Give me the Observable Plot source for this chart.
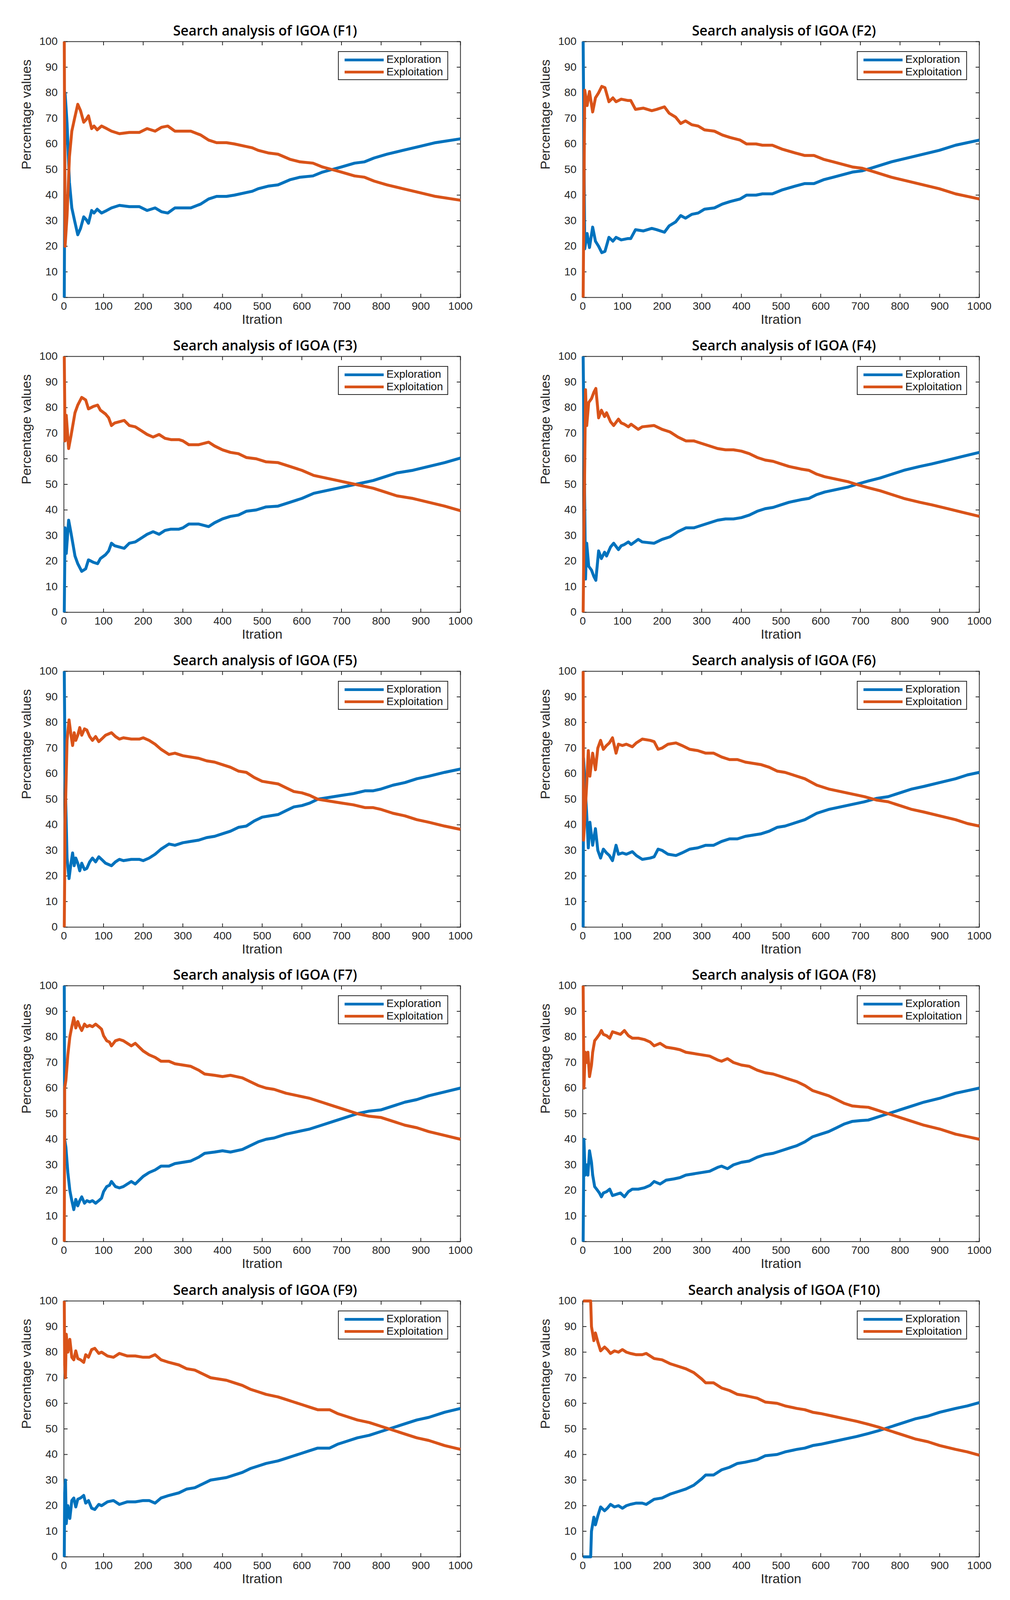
<!DOCTYPE html>
<html><head><meta charset="utf-8">
<script src="https://cdn.jsdelivr.net/npm/d3@7"></script>
<script src="https://cdn.jsdelivr.net/npm/@observablehq/plot@0.6"></script>
<style>
html,body{margin:0;padding:0;background:#fff;}
#root{position:relative;width:2585px;height:5035px;background:#fff;overflow:hidden;font-family:"Liberation Sans",Arial,sans-serif;color:#262626;}
.title{position:absolute;text-align:center;font-family:"Open Sans",sans-serif;font-weight:600;font-size:36px;line-height:36px;color:#000;white-space:nowrap;}
.title span{display:inline-block;transform-origin:center center;}
.legend{position:absolute;box-sizing:border-box;width:282px;border:2px solid #262626;background:#fff;}
.sw{position:absolute;left:15px;width:100px;height:7px;}
.lt{position:absolute;left:122px;font-size:28px;line-height:28px;color:#111;font-family:"Liberation Sans",Arial,sans-serif;white-space:nowrap;}
svg{position:absolute;overflow:visible;}
</style></head><body><div id="root"></div>
<script>
// ---------- data ----------
const titles = ["Search analysis of IGOA (F1)","Search analysis of IGOA (F2)","Search analysis of IGOA (F3)","Search analysis of IGOA (F4)","Search analysis of IGOA (F5)","Search analysis of IGOA (F6)","Search analysis of IGOA (F7)","Search analysis of IGOA (F8)","Search analysis of IGOA (F9)","Search analysis of IGOA (F10)"];
const seriesNames = ["Exploration","Exploitation"];
const xLabel = "Itration";
const yLabel = "Percentage values";
const xTicks = [0,100,200,300,400,500,600,700,800,900,1000];
const yTicks = [0,10,20,30,40,50,60,70,80,90,100];

const f1Iter = [1,3,8,14,20,27,35,42,50,56,62,70,76,84,95,108,120,140,165,190,210,230,246,262,280,300,320,345,365,385,410,430,460,475,490,515,540,570,595,628,652,676,700,733,758,782,815,855,896,937,1000];
const f1Exploration = [0,80,68,45,35,30,24.5,27,31.5,30.5,29,34,33,34.5,33,34,35,36,35.5,35.5,34,35,33.5,33,35,35,35,36.5,38.5,39.5,39.5,40,41,41.5,42.5,43.5,44,46,47,47.5,49,50,51,52.5,53,54.5,56,57.5,59,60.5,62];
const f1Exploitation = [100,20,32,55,65,70,75.5,73,68.5,69.5,71,66,67,65.5,67,66,65,64,64.5,64.5,66,65,66.5,67,65,65,65,63.5,61.5,60.5,60.5,60,59,58.5,57.5,56.5,56,54,53,52.5,51,50,49,47.5,47,45.5,44,42.5,41,39.5,38];

const f2Iter = [1,5,11,17,25,32,40,48,56,66,76,84,97,113,121,133,153,174,186,206,218,234,247,259,275,291,307,332,352,372,397,413,437,453,478,502,535,559,583,607,632,656,680,705,737,778,818,859,899,940,1000];
const f2Exploration = [100,19,25,19.5,27.5,22,20,17.5,18,23.5,22,23.5,22.5,23,23,26.5,26,27,26.5,25.5,28,29.5,32,31,32.5,33,34.5,35,36.5,37.5,38.5,40,40,40.5,40.5,42,43.5,44.5,44.5,46,47,48,49,49.5,51,53,54.5,56,57.5,59.5,61.5];
const f2Exploitation = [0,81,75,80.5,72.5,78,80,82.5,82,76.5,78,76.5,77.5,77,77,73.5,74,73,73.5,74.5,72,70.5,68,69,67.5,67,65.5,65,63.5,62.5,61.5,60,60,59.5,59.5,58,56.5,55.5,55.5,54,53,52,51,50.5,49,47,45.5,44,42.5,40.5,38.5];

const f3Iter = [1,3,6,12,18,28,35,45,55,62,75,85,92,105,113,120,128,140,152,165,180,195,210,225,240,255,270,290,300,315,340,365,380,400,420,440,460,485,510,540,570,600,630,660,690,720,750,780,810,840,880,920,960,1000];
const f3Exploration = [0,33,23,36,31,22,19,16,17,20.5,19.5,19,21,22.5,24,27,26,25.5,25,27,27.5,29,30.5,31.5,30.5,32,32.5,32.5,33,34.5,34.5,33.5,35,36.5,37.5,38,39.5,40,41.2,41.5,43,44.5,46.5,47.5,48.5,49.5,50.5,51.5,53,54.5,55.5,57,58.5,60.3];
const f3Exploitation = [100,67,77,64,69,78,81,84,83,79.5,80.5,81,79,77.5,76,73,74,74.5,75,73,72.5,71,69.5,68.5,69.5,68,67.5,67.5,67,65.5,65.5,66.5,65,63.5,62.5,62,60.5,60,58.8,58.5,57,55.5,53.5,52.5,51.5,50.5,49.5,48.5,47,45.5,44.5,43,41.5,39.7];

const f4Iter = [1,7,10,15,22,28,33,40,47,55,60,70,78,90,97,105,115,122,140,150,180,200,220,240,260,280,300,320,340,360,380,400,420,440,460,480,500,520,550,570,590,610,640,670,690,720,750,780,810,850,880,920,960,1000];
const f4Exploration = [100,13,27,18,16.5,14,12.5,24,21,23.5,22,25.5,27,24.5,26,26.5,27.5,26.5,28.5,27.5,27,28.5,29.5,31.5,33,33,34,35,36,36.5,36.5,37,38,39.5,40.5,41,42,43,44,44.5,46,47,48,49,50,51.3,52.5,54,55.5,57,58,59.5,61,62.5];
const f4Exploitation = [0,87,73,82,83.5,86,87.5,76,79,76.5,78,74.5,73,75.5,74,73.5,72.5,73.5,71.5,72.5,73,71.5,70.5,68.5,67,67,66,65,64,63.5,63.5,63,62,60.5,59.5,59,58,57,56,55.5,54,53,52,51,50,48.7,47.5,46,44.5,43,42,40.5,39,37.5];

const f5Iter = [1,3,8,13,18,22,26,30,35,40,45,52,58,65,72,80,88,95,105,120,130,140,150,170,190,200,215,230,245,265,280,300,320,340,360,380,400,420,440,460,480,500,520,540,560,580,600,620,640,660,680,700,730,760,780,800,830,860,890,920,960,1000];
const f5Exploration = [100,60,27,19,25,29,24,27,25,22,25,22.5,23,25.5,27,25.5,27.5,26.5,25,24,25.5,26.5,26,26.5,26.5,26,27,28.5,30.5,32.5,32,33,33.5,34,35,35.5,36.5,37.5,39,39.5,41.5,43,43.5,44,45.5,47,47.5,48.5,50,50.5,51,51.5,52.2,53.3,53.3,54,55.5,56.5,58,59,60.5,61.8];
const f5Exploitation = [0,40,73,81,75,71,76,73,75,78,75,77.5,77,74.5,73,74.5,72.5,73.5,75,76,74.5,73.5,74,73.5,73.5,74,73,71.5,69.5,67.5,68,67,66.5,66,65,64.5,63.5,62.5,61,60.5,58.5,57,56.5,56,54.5,53,52.5,51.5,50,49.5,49,48.5,47.8,46.7,46.7,46,44.5,43.5,42,41,39.5,38.2];

const f6Iter = [1,2,10,14,18,25,32,38,45,52,60,67,75,84,90,100,110,125,135,150,170,180,190,200,215,235,250,270,290,310,330,350,370,390,410,430,450,470,490,510,530,560,590,620,650,680,710,740,770,800,830,860,900,940,970,1000];
const f6Exploration = [0,66,44,31,41,32,38.5,30,27,30.5,29,28,26,32,28.5,29,28.5,29.5,28,26.5,27,27.5,30.5,30,28.5,28,29,30.5,31,32,32,33.5,34.5,34.5,35.5,36,36.5,37.5,39,39.5,40.5,42,44.5,46,47,48,49,50.3,51,52.5,54,55,56.5,58,59.5,60.5];
const f6Exploitation = [100,34,56,69,59,68,61.5,70,73,69.5,71,72,74,68,71.5,71,71.5,70.5,72,73.5,73,72.5,69.5,70,71.5,72,71,69.5,69,68,68,66.5,65.5,65.5,64.5,64,63.5,62.5,61,60.5,59.5,58,55.5,54,53,52,51,49.7,49,47.5,46,45,43.5,42,40.5,39.5];

const f7Iter = [1,2,5,10,15,20,25,30,35,40,45,52,58,65,72,80,88,95,100,108,115,120,130,140,150,160,170,180,190,200,215,230,245,265,280,300,320,340,355,380,400,420,450,470,490,510,530,560,590,620,650,680,710,740,770,800,830,860,890,920,960,1000];
const f7Exploration = [100,40,37,27,20,16,12.5,16.5,14,16,17.5,15,16,15.5,16,15,16,17,19.5,21.5,22,23.5,21.5,21,21.5,22.5,23.5,22.5,24,25.5,27,28,29.5,29.5,30.5,31,31.5,33,34.5,35,35.5,35,36,37.5,39,40,40.5,42,43,44,45.5,47,48.5,50,51,51.5,53,54.5,55.5,57,58.5,60];
const f7Exploitation = [0,60,63,73,80,84,87.5,83.5,86,84,82.5,85,84,84.5,84,85,84,83,80.5,78.5,78,76.5,78.5,79,78.5,77.5,76.5,77.5,76,74.5,73,72,70.5,70.5,69.5,69,68.5,67,65.5,65,64.5,65,64,62.5,61,60,59.5,58,57,56,54.5,53,51.5,50,49,48.5,47,45.5,44.5,43,41.5,40];

const f8Iter = [1,3,6,10,13,17,22,25,30,35,42,47,52,60,68,75,85,95,105,115,125,140,155,170,180,195,210,230,245,260,280,300,320,340,350,365,380,400,420,440,460,480,500,520,540,560,580,600,620,640,660,680,700,720,740,760,780,800,830,860,900,940,970,1000];
const f8Exploration = [0,40,26,30,26,35.5,31,26,21.5,20.5,19,17.5,19,19.5,20.5,18,18.5,19,17.5,19.5,20.5,20.5,21,22,23.5,22.5,24,24.5,25,26,26.5,27,27.5,29,29.5,28.5,30,31,31.5,33,34,34.5,35.5,36.5,37.5,39,41,42,43,44.5,46,47,47.3,47.5,48.5,49.5,50.5,51.5,53,54.5,56,58,59,60];
const f8Exploitation = [100,60,74,70,74,64.5,69,74,78.5,79.5,81,82.5,81,80.5,79.5,82,81.5,81,82.5,80.5,79.5,79.5,79,78,76.5,77.5,76,75.5,75,74,73.5,73,72.5,71,70.5,71.5,70,69,68.5,67,66,65.5,64.5,63.5,62.5,61,59,58,57,55.5,54,53,52.7,52.5,51.5,50.5,49.5,48.5,47,45.5,44,42,41,40];

const f9Iter = [1,2,4,6,10,15,20,25,30,35,42,50,55,62,70,78,88,95,110,125,140,160,180,200,215,230,245,265,290,310,330,350,370,390,410,430,450,470,490,510,540,560,580,600,620,640,670,690,710,740,770,800,830,860,890,920,960,1000];
const f9Exploration = [0,25,30,13,20,15,22,23,19.5,22.5,23,24,21,22,19,18.5,20.5,20,21.5,22,20.5,21.5,21.5,22,22,21,23,24,25,26.5,27,28.5,30,30.5,31,32,33,34.5,35.5,36.5,37.5,38.5,39.5,40.5,41.5,42.5,42.5,44,45,46.5,47.5,49,50.5,52,53.5,54.5,56.5,58];
const f9Exploitation = [100,75,70,87,80,85,78,77,80.5,77.5,77,76,79,78,81,81.5,79.5,80,78.5,78,79.5,78.5,78.5,78,78,79,77,76,75,73.5,73,71.5,70,69.5,69,68,67,65.5,64.5,63.5,62.5,61.5,60.5,59.5,58.5,57.5,57.5,56,55,53.5,52.5,51,49.5,48,46.5,45.5,43.5,42];

const f10Iter = [1,20,22,28,32,38,45,55,62,70,80,90,100,110,120,135,150,160,180,200,220,240,260,280,300,310,330,350,370,390,410,440,460,490,510,540,560,580,600,630,660,690,720,750,780,810,840,870,900,940,970,1000];
const f10Exploration = [0,0,10,15.5,12.5,16,19.5,18,19,20.5,19.5,20,19,20,20.5,21,21,20.5,22.5,23,24.5,25.5,26.5,28,30.5,32,32,34,35,36.5,37,38,39.5,40,41,42,42.5,43.5,44,45,46,47,48.2,49.5,51,52.5,54,55,56.5,58,59,60.3];
const f10Exploitation = [100,100,90,84.5,87.5,84,80.5,82,81,79.5,80.5,80,81,80,79.5,79,79,79.5,77.5,77,75.5,74.5,73.5,72,69.5,68,68,66,65,63.5,63,62,60.5,60,59,58,57.5,56.5,56,55,54,53,51.8,50.5,49,47.5,46,45,43.5,42,41,39.7];

// ---------- layout & style ----------
const iters = [f1Iter,f2Iter,f3Iter,f4Iter,f5Iter,f6Iter,f7Iter,f8Iter,f9Iter,f10Iter];
const explorations = [f1Exploration,f2Exploration,f3Exploration,f4Exploration,f5Exploration,f6Exploration,f7Exploration,f8Exploration,f9Exploration,f10Exploration];
const exploitations = [f1Exploitation,f2Exploitation,f3Exploitation,f4Exploitation,f5Exploitation,f6Exploitation,f7Exploitation,f8Exploitation,f9Exploitation,f10Exploitation];

const colors = ["#0072BD", "#D95319"];
const axisColor = "#262626";
// the page is photographed through the visible window; fit the 5035px-tall layout into it
const REF_H = 5035;
const fy = Math.min(1, (window.innerHeight || REF_H) / REF_H);
const Y = v => v * fy;

const colLeft = [163, 1491];
const rowTop = [130, 1121, 2112, 3102, 4094];
const PW = 1015, PH = Math.round(Y(805));
const ML = 150, MR = 20, MT = 10, MB = 100;

const root = document.getElementById("root");
root.style.height = Math.floor(Y(REF_H)) + "px";
const titleSpans = [];

for (let k = 0; k < 10; k++) {
  const col = k % 2, row = Math.floor(k / 2);
  const left = colLeft[col], top = Math.round(Y(rowTop[row]));
  const rows = [];
  iters[k].forEach((it, i) => rows.push({it, v: explorations[k][i], s: seriesNames[0]}));
  iters[k].forEach((it, i) => rows.push({it, v: exploitations[k][i], s: seriesNames[1]}));

  const svg = Plot.plot({
    width: ML + PW + MR,
    height: MT + PH + MB,
    marginLeft: ML, marginRight: MR, marginTop: MT, marginBottom: MB,
    x: {type: "linear", domain: [0, 1000]},
    y: {type: "linear", domain: [0, 100]},
    color: {domain: seriesNames, range: colors},
    style: {fontFamily: '"Liberation Sans", Arial, sans-serif', fontSize: "28px", color: axisColor, background: "transparent", overflow: "visible"},
    marks: [
      Plot.frame({stroke: axisColor, strokeWidth: 2}),
      Plot.axisX({ticks: xTicks, anchor: "bottom", tickSize: 9, dy: -9, tickFormat: () => "", label: null, stroke: axisColor, strokeWidth: 2}),
      Plot.axisX({ticks: xTicks, anchor: "top", tickSize: 9, dy: 9, tickFormat: () => "", label: null, stroke: axisColor, strokeWidth: 2}),
      Plot.axisY({ticks: yTicks, anchor: "left", tickSize: 10, dx: 10, tickFormat: () => "", label: null, stroke: axisColor, strokeWidth: 2}),
      Plot.axisY({ticks: yTicks, anchor: "right", tickSize: 10, dx: -10, tickFormat: () => "", label: null, stroke: axisColor, strokeWidth: 2}),
      Plot.axisX({ticks: xTicks, anchor: "bottom", tickSize: 0, tickPadding: Math.round(Y(33)) - 15, tickFormat: d3.format("d"), label: null, fontSize: 28, fill: axisColor}),
      Plot.axisY({ticks: yTicks, anchor: "left", tickSize: 0, tickPadding: 16, tickFormat: d3.format("d"), label: null, fontSize: 28, fill: axisColor}),
      Plot.text([xLabel], {text: d => d, frameAnchor: "bottom", dy: Math.round(Y(82)), fontSize: 34, fill: axisColor}),
      Plot.text([yLabel], {text: d => d, frameAnchor: "left", dx: -95, rotate: -90, fontSize: 34, fill: axisColor}),
      Plot.line(rows, {x: "it", y: "v", z: "s", stroke: "s", strokeWidth: 7.5, strokeLinejoin: "round", strokeLinecap: "butt"})
    ]
  });
  svg.style.left = (left - ML) + "px";
  svg.style.top = (top - MT) + "px";
  root.appendChild(svg);

  const t = document.createElement("div");
  t.className = "title";
  t.style.left = (left + 8) + "px";
  t.style.width = PW + "px";
  t.style.top = Math.round(top - Y(34) - 18) + "px";
  const sp = document.createElement("span");
  sp.textContent = titles[k];
  t.appendChild(sp);
  root.appendChild(t);
  titleSpans.push(sp);

  const lg = document.createElement("div");
  lg.className = "legend";
  lg.style.left = (left + 702) + "px";
  lg.style.top = Math.round(top + Y(31)) + "px";
  lg.style.height = Math.round(Y(91)) + "px";
  seriesNames.forEach((name, i) => {
    const cy = Y(26 + 39 * i) - 1;
    const sw = document.createElement("div");
    sw.className = "sw";
    sw.style.background = colors[i];
    sw.style.top = (cy - 3.5) + "px";
    lg.appendChild(sw);
    const lt = document.createElement("div");
    lt.className = "lt";
    lt.textContent = name;
    lt.style.top = (cy - 15) + "px";
    lg.appendChild(lt);
  });
  root.appendChild(lg);
}
// narrow the title font to the reference's title width
const w0 = titleSpans[0].getBoundingClientRect().width;
const sx = w0 > 0 ? 471 / w0 : 1;
titleSpans.forEach(sp => { sp.style.transform = `scaleX(${sx})`; });
</script></body></html>
